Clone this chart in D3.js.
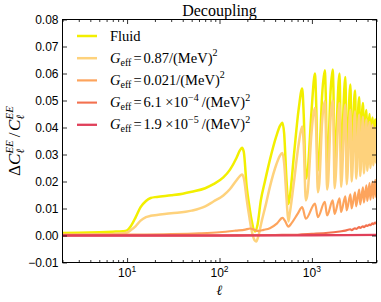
<!DOCTYPE html>
<html><head><meta charset="utf-8">
<script src="https://cdn.jsdelivr.net/npm/d3@7"></script>
<style>body{margin:0;background:#fff} svg{display:block}</style>
</head><body><svg id="c" width="381" height="302"></svg>
<script>
// ---- data (ell, Delta C / C) ----
const fluid = [[2,0.0009],[3,0.001],[5,0.0012],[7,0.0014],[9,0.0016],[10,0.0019],[11,0.0035],[12.4,0.0068],[14,0.0105],[16,0.0128],[18,0.0139],[21,0.0143],[30,0.0149],[40,0.0155],[50,0.0162],[70,0.0175],[86,0.019],[110,0.0215],[130,0.0244],[153,0.0288],[166,0.0315],[175,0.0325],[183,0.031],[197,0.018],[210,0.011],[222,0.0058],[242,0.0015],[258,0.004],[280,0.013],[310,0.02],[351,0.028],[412,0.0368],[450,0.0405],[480,0.0418],[500,0.038],[533,0.0196],[556,0.0117],[575,0.014],[640,0.03],[720,0.047],[785,0.0544],[815,0.045],[860,0.021],[900,0.024],[990,0.046],[1080,0.060],[1110,0.05],[1160,0.024],[1200,0.028],[1290,0.052],[1380,0.0612],[1410,0.053],[1460,0.026],[1500,0.03],[1590,0.053],[1680,0.0615],[1710,0.054],[1760,0.028],[1990,0.060],[2070,0.030],[2300,0.0587],[2380,0.031],[2610,0.0559],[2690,0.032],[2930,0.0537],[3010,0.033],[3250,0.0512],[3330,0.034],[3570,0.0491],[3650,0.035],[3890,0.0465],[3970,0.036],[4210,0.045],[4290,0.037],[4530,0.0437],[4610,0.038],[4850,0.043],[4930,0.038],[5000,0.041]];
const geff087 = [[2,0.0003],[4,0.0004],[7,0.0006],[9,0.0008],[10,0.0011],[11,0.002],[12.4,0.0035],[14,0.0055],[16,0.0068],[18,0.0073],[21,0.0076],[30,0.0082],[50,0.0092],[70,0.0108],[86,0.0126],[110,0.0148],[130,0.0172],[153,0.0205],[166,0.022],[175,0.0226],[184,0.021],[197,0.0133],[210,0.007],[222,0.0021],[240,-0.0018],[250,-0.0022],[262,-0.0005],[285,0.005],[320,0.012],[351,0.018],[412,0.0263],[450,0.0295],[480,0.0306],[500,0.027],[533,0.013],[556,0.0052],[575,0.008],[640,0.02],[720,0.034],[785,0.0404],[815,0.034],[860,0.013],[900,0.016],[990,0.038],[1080,0.0472],[1110,0.04],[1160,0.016],[1200,0.019],[1290,0.042],[1380,0.0497],[1410,0.042],[1460,0.017],[1500,0.02],[1590,0.043],[1680,0.050],[1710,0.043],[1760,0.0175],[1990,0.0491],[2070,0.018],[2300,0.0485],[2380,0.019],[2610,0.0466],[2690,0.020],[2930,0.046],[3010,0.021],[3250,0.0448],[3330,0.022],[3570,0.044],[3650,0.023],[3890,0.043],[3970,0.024],[4210,0.042],[4290,0.025],[4530,0.041],[4610,0.026],[4850,0.040],[4930,0.027],[5000,0.031]];
const geff0021 = [[2,0.0002],[10,0.0003],[30,0.0005],[60,0.0008],[100,0.0012],[150,0.0018],[190,0.0022],[215,0.0026],[235,0.0022],[260,0.0017],[300,0.0021],[351,0.0027],[420,0.0045],[480,0.0065],[510,0.0055],[556,0.0033],[600,0.0045],[700,0.008],[785,0.0105],[860,0.0062],[1080,0.0118],[1160,0.0068],[1380,0.0125],[1460,0.0074],[1680,0.013],[1760,0.008],[1990,0.0138],[2070,0.0087],[2300,0.0145],[2380,0.0093],[2610,0.0152],[2690,0.010],[2930,0.016],[3010,0.0108],[3250,0.017],[3330,0.0115],[3570,0.0178],[3650,0.0122],[3890,0.0186],[3970,0.0128],[4210,0.0194],[4290,0.0133],[4530,0.020],[4610,0.0138],[4850,0.0206],[4930,0.0142],[5000,0.016]];
const geff61e4 = [[2,0],[100,0],[200,0.0001],[400,0.0002],[700,0.0003],[1000,0.0006],[1500,0.001],[2000,0.0015],[2300,0.0018],[2610,0.0023],[2690,0.0020],[2930,0.0027],[3010,0.0024],[3250,0.0031],[3330,0.0028],[3570,0.0034],[3650,0.0031],[3890,0.0038],[3970,0.0035],[4210,0.0041],[4290,0.0038],[4530,0.0045],[4610,0.0042],[4850,0.0048],[4930,0.0045],[5000,0.0047]];
const geff19e5 = [[2,0],[100,0],[1000,0.0001],[5000,0.0002]];

const yTicks = [-0.01,0,0.01,0.02,0.03,0.04,0.05,0.06,0.07,0.08];
const xMajor = [10,100,1000];
const xMajorExp = ["1","2","3"];
const xMinor = [2,3,4,5,6,7,8,9,20,30,40,50,60,70,80,90,200,300,400,500,600,700,800,900,2000,3000,4000,5000];
const titleText = "Decoupling";

const series = [fluid, geff087, geff0021, geff61e4, geff19e5];
const colors = ["#f2ef00","#fed27c","#fda45d","#f3714f","#e0405a"];
const widths = [2.5,2.5,2.2,2.1,2.3];
const legendLabels = [
  [{t:"Fluid"}],
  [{t:"G",it:1},{t:"eff",s:10,dy:3},{t:"=",dx:2},{t:"0.87/(MeV)",dx:2},{t:"2",s:10,dy:-6.5}],
  [{t:"G",it:1},{t:"eff",s:10,dy:3},{t:"=",dx:2},{t:"0.021/(MeV)",dx:2},{t:"2",s:10,dy:-6.5}],
  [{t:"G",it:1},{t:"eff",s:10,dy:3},{t:"=",dx:2},{t:"6.1 ×10",dx:2},{t:"−4",s:10,dy:-6.5},{t:"/(MeV)",dx:3},{t:"2",s:10,dy:-6.5}],
  [{t:"G",it:1},{t:"eff",s:10,dy:3},{t:"=",dx:2},{t:"1.9 ×10",dx:2},{t:"−5",s:10,dy:-6.5},{t:"/(MeV)",dx:3},{t:"2",s:10,dy:-6.5}]
];

const svg = d3.select("#c");
const L=62.5, R=376.5, T=19.5, B=262.5;
const x = d3.scaleLog().domain([2,5000]).range([L,R]);
const y = d3.scaleLinear().domain([-0.01,0.08]).range([B,T]);
const serif = "'Liberation Serif','DejaVu Serif',serif";
const sans = "'Liberation Sans',Arial,sans-serif";

function mathText(parent, parts, fam, base){
  const g = parent.append("g");
  let cx=0, prevStart=0;
  parts.forEach(p=>{
    const x0 = p.stack ? prevStart : cx + (p.dx||0);
    const t = g.append("text").attr("x",x0).attr("y",p.dy||0)
      .attr("font-family",fam).attr("font-size",p.s||base)
      .attr("font-style",p.it?"italic":"normal").attr("fill","#000").text(p.t);
    const w = t.node().getComputedTextLength();
    if(p.stack){ cx=Math.max(cx,x0+w); } else { prevStart=x0; cx=x0+w; }
  });
  return {g, width:cx};
}

// clip
svg.append("clipPath").attr("id","clip").append("rect")
  .attr("x",L).attr("y",T).attr("width",R-L).attr("height",B-T);

// lines
const line = d3.line().x(d=>x(d[0])).y(d=>y(d[1])).curve(d3.curveMonotoneX);
const lg = svg.append("g").attr("clip-path","url(#clip)");
series.forEach((s,i)=>{
  lg.append("path").datum(s).attr("d",line).attr("fill","none")
    .attr("stroke",colors[i]).attr("stroke-width",widths[i])
    .attr("stroke-linejoin","round");
});

// axes
function styleAxis(g){ g.select(".domain").remove(); g.selectAll("line").attr("stroke","#000").attr("stroke-width",0.8); }
svg.append("g").attr("transform",`translate(${L},0)`)
  .call(d3.axisLeft(y).tickValues(yTicks).tickSize(-4.5).tickPadding(4).tickFormat(d3.format(".2f")))
  .call(styleAxis).selectAll("text").attr("font-family",sans).attr("font-size",12).attr("fill","#000");
svg.append("g").attr("transform",`translate(${R},0)`)
  .call(d3.axisRight(y).tickValues(yTicks).tickSize(-4.5).tickFormat("")).call(styleAxis);
[[B,d3.axisBottom],[T,d3.axisTop]].forEach(([yy,ax])=>{
  svg.append("g").attr("transform",`translate(0,${yy})`)
    .call(ax(x).tickValues(xMajor).tickSize(-4.5).tickFormat("")).call(styleAxis);
  svg.append("g").attr("transform",`translate(0,${yy})`)
    .call(ax(x).tickValues(xMinor).tickSize(-2.5).tickFormat("")).call(styleAxis);
});
// x tick labels 10^n
xMajor.forEach((v,i)=>{
  const m = mathText(svg,[{t:"10"},{t:xMajorExp[i],s:8.5,dy:-5.5}],sans,12);
  m.g.attr("transform",`translate(${x(v)-m.width/2},277)`);
});

// frame
svg.append("rect").attr("x",L).attr("y",T).attr("width",R-L).attr("height",B-T)
  .attr("fill","none").attr("stroke","#000").attr("stroke-width",1);

// title
svg.append("text").attr("x",(L+R)/2).attr("y",15.5).attr("text-anchor","middle")
  .attr("font-family",serif).attr("font-size",16).attr("fill","#000").text(titleText);

// x label
svg.append("text").attr("x",(L+R)/2).attr("y",294.5).attr("text-anchor","middle")
  .attr("font-family","'DejaVu Serif',serif").attr("font-style","italic").attr("font-size",14).attr("fill","#000").text("ℓ");

// y label
const yl = mathText(svg,[
  {t:"Δ"},{t:"C",it:1},{t:"ℓ",it:1,s:11,dy:4},{t:"EE",it:1,s:11,dy:-7.5,stack:1},
  {t:"/",dx:3},{t:"C",it:1,dx:1.5},{t:"ℓ",it:1,s:11,dy:4},{t:"EE",it:1,s:11,dy:-7.5,stack:1}
],serif,17);
yl.g.attr("transform",`translate(20,${(T+B)/2}) rotate(-90) translate(${-yl.width/2},0)`);

// legend
const legY0 = 36, legDy = 22.2;
legendLabels.forEach((parts,i)=>{
  const yy = legY0 + i*legDy;
  svg.append("line").attr("x1",77).attr("x2",97).attr("y1",yy).attr("y2",yy)
    .attr("stroke",colors[i]).attr("stroke-width",widths[i]);
  const m = mathText(svg,parts,serif,14.5);
  m.g.attr("transform",`translate(110,${yy+4.5})`);
});
</script></body></html>
